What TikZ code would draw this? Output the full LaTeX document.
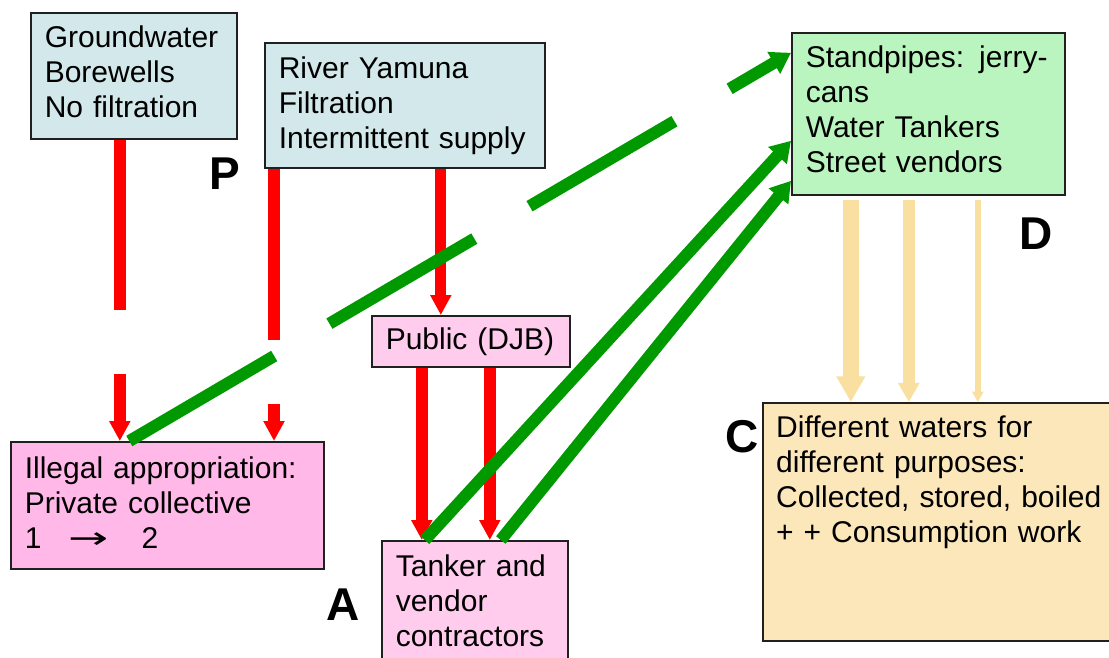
\documentclass[tikz,border=0pt]{standalone}
\usepackage{fontspec}
\setmainfont{Liberation Sans}
\newfontfamily\dejavu{DejaVu Sans}
\usetikzlibrary{arrows.meta}
\definecolor{gwblue}{HTML}{D2E8EA}
\definecolor{spgreen}{HTML}{BAF4BE}
\definecolor{pinkA}{HTML}{FFB8E8}
\definecolor{pinkB}{HTML}{FFCCEE}
\definecolor{cbox}{HTML}{FCE7BA}
\definecolor{tan}{HTML}{FAE0A0}
\definecolor{arrgreen}{HTML}{009900}
\definecolor{arrred}{HTML}{FF0000}
\definecolor{edge}{HTML}{202020}
\newcommand\dpfix[1]{\rule[-#1pt]{0pt}{1pt}}
\tikzset{
  box/.style={draw=edge, line width=1.6pt, rectangle, anchor=north west,
    inner xsep=14pt, inner ysep=0pt, align=left,
    font=\fontsize{30}{35}\selectfont},
  letter/.style={font=\fontsize{46}{50}\selectfont\bfseries, inner sep=0pt},
  redarr/.style={draw=arrred, line width=12pt,
    -{Triangle[width=20pt,length=20pt]}},
  greenarr/.style={draw=arrgreen, line width=12pt,
    -{Triangle[width=24pt,length=20pt]}},
  tanarr/.style={draw=tan, -{Triangle[width=#1pt*1.7,length=#1pt*1.6]}, line width=#1pt},
}
\begin{document}
\begin{tikzpicture}[x=1pt,y=-1pt]
\useasboundingbox (0,0) rectangle (1109,657);
\clip (0,0) rectangle (1109,657);
\fill[white] (0,0) rectangle (1109,657);

% boxes
\node[box, fill=gwblue, text width=178pt, minimum height=126pt] (gw) at (30,12)
  {Groundwater\\Borewells\\No filtration\dpfix{8}};
\node[box, fill=gwblue, text width=252pt, minimum height=125pt] (rv) at (264,42)
  {River Yamuna\\Filtration\\Intermittent supply};
\node[box, fill=spgreen, text width=245pt, minimum height=162pt] (sp) at (791,32)
  {Standpipes: jerry-\\cans\\Water Tankers\\Street vendors\dpfix{10}};
\node[box, fill=pinkB, text width=170pt, minimum height=51pt] (pub) at (371,315)
  {Public (DJB)};
\node[box, fill=pinkA, text width=285pt, minimum height=127pt] (il) at (10,441)
  {Illegal appropriation:\\Private collective\\1\hspace{27pt}{\dejavu\scalebox{1.6}[1]{→}}\hspace{33pt}2\dpfix{6}};
\node[box, fill=pinkB, text width=158pt, minimum height=120pt] (tk) at (381,540)
  {Tanker and\\vendor\\contractors};
\node[box, fill=cbox, text width=332pt, minimum height=238pt] (cb) at (762,402) {};
\node[anchor=north west, inner sep=0pt, align=left, text width=340pt,
  font=\fontsize{30}{35}\selectfont] (ct) at (776,416)
  {Different waters for\\different purposes:\\Collected, stored, boiled\\+ + Consumption work};

% letters
\node[letter] (P) at (225,174) {P};
\node[letter] (D) at (1036,234) {D};
\node[letter] (C) at (742,437) {C};
\node[letter] (A) at (343,605) {A};

% red arrows
\draw[redarr, dash pattern=on 170pt off 64pt]
  ([xshift=-14pt]gw.south) -- ([xshift=-14pt]gw.south |- il.north);
\draw[redarr, dash pattern=on 171pt off 64pt]
  ([xshift=10pt]rv.south west) -- ([xshift=10pt]rv.south west |- il.north);
\draw[redarr, line width=11pt]
  ([xshift=-30pt]pub.north |- rv.south) -- ([xshift=-30pt]pub.north);
\draw[redarr] ([xshift=-49pt]pub.south) -- ([xshift=-49pt]pub.south |- tk.north);
\draw[redarr] ([xshift=19pt]pub.south) -- ([xshift=19pt]pub.south |- tk.north);

% green arrows
\draw[greenarr, dash pattern=on 168pt off 64pt]
  ([xshift=-38pt]il.north) -- ([yshift=61pt]sp.west);
\draw[greenarr] ([xshift=-50pt]tk.north) -- ([yshift=-27pt]sp.west);
\draw[greenarr] ([xshift=26pt]tk.north) -- ([yshift=-67pt]sp.west);

% tan arrows
\draw[tanarr=16] ([xshift=-77.5pt, yshift=-4pt]sp.south) -- ([xshift=-77.5pt]sp.south |- cb.north);
\draw[tanarr=12] ([xshift=-19.5pt, yshift=-4pt]sp.south) -- ([xshift=-19.5pt]sp.south |- cb.north);
\draw[tanarr=6.5] ([xshift=49.5pt, yshift=-4pt]sp.south) -- ([xshift=49.5pt]sp.south |- cb.north);
\end{tikzpicture}
\end{document}
